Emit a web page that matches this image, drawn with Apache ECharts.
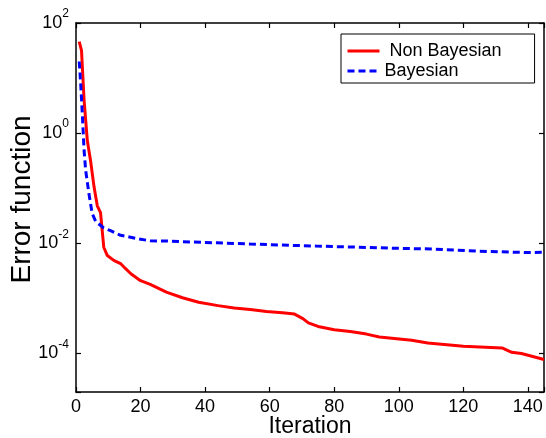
<!DOCTYPE html>
<html>
<head>
<meta charset="utf-8">
<script src="https://cdn.jsdelivr.net/npm/echarts@6/dist/echarts.min.js"></script>
<style>
  html, body { margin: 0; padding: 0; background: #fff; }
  #echarts { width: 546px; height: 438px; }
</style>
</head>
<body>
<div id="echarts"></div>
<script>
const FONT = 'Liberation Sans, Arial, sans-serif';

// Non Bayesian (red, solid)
const redIter = [1, 1.7, 2.5, 3.5, 4.5, 5.6, 6.6, 7.6, 8.6, 9.7, 11.7, 13.8, 15.3, 17, 20, 23, 28, 33, 38, 44, 49, 54, 59, 64, 67.7, 70.3, 72, 75, 80, 85, 90, 94, 104, 109, 120, 132, 135, 138, 145];
const redErr = [46, 32, 4, 0.74, 0.32, 0.105, 0.048, 0.036, 0.0085, 0.006, 0.0049, 0.0043, 0.0035, 0.0028, 0.0021, 0.0018, 0.0013, 0.00103, 0.00085, 0.00074, 0.00067, 0.00063, 0.00058, 0.00055, 0.00052, 0.00043, 0.00036, 0.00031, 0.00027, 0.00025, 0.000225, 0.0002, 0.000174, 0.000155, 0.000135, 0.000126, 0.000105, 0.0001, 0.000078];

// Bayesian (blue, dashed)
const blueIter = [1, 1.45, 2, 2.5, 3, 4, 5, 6.1, 8.6, 10.7, 13.8, 18.9, 23, 28, 33, 43.6, 54, 64, 74.4, 84.7, 100, 110, 125, 140, 145];
const blueErr = [20, 8, 2, 0.49, 0.21, 0.08, 0.035, 0.025, 0.019, 0.017, 0.014, 0.0122, 0.0111, 0.011, 0.0107, 0.0102, 0.0097, 0.0093, 0.0089, 0.0086, 0.0081, 0.0079, 0.0072, 0.0068, 0.0069];

const xTicks = [0, 20, 40, 60, 80, 100, 120, 140];
const yExponents = [-4, -2, 0, 2];

function pairs(xs, ys) {
  return xs.map((x, i) => [x, ys[i]]);
}

let myChart = echarts.init(document.getElementById('echarts'), null, { renderer: 'canvas' });

const tickStyle = { show: true, inside: true, length: 5, lineStyle: { color: '#000', width: 1.2 } };
const lineAxis = { show: true, onZero: false, lineStyle: { color: '#000', width: 1.5 } };

function yLabel(v) {
  const e = Math.log10(v);
  const r = Math.round(e);
  if (Math.abs(e - r) > 1e-6 || yExponents.indexOf(r) < 0) return '';
  return '{b|10}{s|' + r + '}';
}

let option = {
  animation: false,
  backgroundColor: '#fff',
  grid: { left: 76, right: 2, top: 23, bottom: 46, outerBoundsMode: 'none', containLabel: false },
  legend: {
    orient: 'vertical',
    left: 341,
    top: 34,
    padding: [8, 33, 3, 5],
    itemGap: 2,
    itemWidth: 32,
    itemHeight: 14,
    borderColor: '#000',
    borderWidth: 1,
    backgroundColor: '#fff',
    itemStyle: { opacity: 0 },
    lineStyle: { width: 3 },
    textStyle: { fontFamily: FONT, fontSize: 18, color: '#000' },
    formatter: name => (name === 'Non Bayesian' ? ' ' + name : name),
    data: ['Non Bayesian', 'Bayesian'],
  },
  xAxis: [
    {
      type: 'value',
      min: 0,
      max: 145,
      interval: 20,
      position: 'bottom',
      axisLine: lineAxis,
      axisTick: tickStyle,
      splitLine: { show: false },
      axisLabel: {
        margin: 6,
        color: '#000',
        fontFamily: FONT,
        fontSize: 18,
        formatter: v => (xTicks.indexOf(v) >= 0 ? String(v) : ''),
      },
      name: 'Iteration',
      nameLocation: 'middle',
      nameGap: 23,
      nameMoveOverlap: false,
      nameTextStyle: { fontFamily: FONT, fontSize: 23, color: '#000' },
    },
    {
      type: 'value',
      min: 0,
      max: 145,
      interval: 20,
      position: 'top',
      axisLine: lineAxis,
      axisTick: tickStyle,
      splitLine: { show: false },
      axisLabel: { show: false },
    },
  ],
  yAxis: [
    {
      type: 'log',
      logBase: 100,
      min: 2e-5,
      max: 100,
      position: 'left',
      axisLine: lineAxis,
      axisTick: tickStyle,
      splitLine: { show: false },
      axisLabel: {
        margin: 7,
        color: '#000',
        formatter: yLabel,
        rich: {
          b: { fontFamily: FONT, fontSize: 18, lineHeight: 18, color: '#000' },
          s: { fontFamily: FONT, fontSize: 12, lineHeight: 12, padding: [0, 0, 18, 0], color: '#000' },
        },
      },
      name: 'Error function',
      nameLocation: 'middle',
      nameGap: 40,
      nameMoveOverlap: false,
      nameTextStyle: { fontFamily: FONT, fontSize: 28, color: '#000', padding: [0, 0, 0, 16] },
    },
    {
      type: 'log',
      logBase: 100,
      min: 2e-5,
      max: 100,
      position: 'right',
      axisLine: lineAxis,
      axisTick: tickStyle,
      splitLine: { show: false },
      axisLabel: { show: false },
    },
  ],
  series: [
    {
      name: 'Non Bayesian',
      type: 'line',
      symbol: 'none',
      color: '#ff0000',
      lineStyle: { color: '#ff0000', width: 3 },
      data: pairs(redIter, redErr),
    },
    {
      name: 'Bayesian',
      type: 'line',
      symbol: 'none',
      color: '#0000ff',
      lineStyle: { color: '#0000ff', width: 3, type: [7, 4] },
      data: pairs(blueIter, blueErr),
    },
  ],
};
myChart.setOption(option);
</script>
</body>
</html>
